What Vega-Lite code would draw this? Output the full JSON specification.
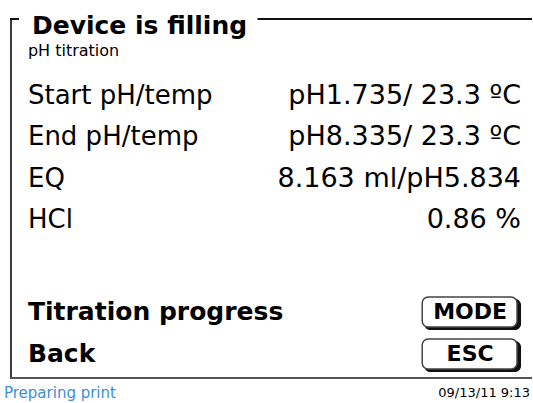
{
  "$schema": "https://vega.github.io/schema/vega-lite/v6.json",
  "width": 533,
  "height": 403,
  "autosize": {"type": "fit", "contains": "padding"},
  "padding": 0,
  "background": "#ffffff",
  "config": {"view": {"stroke": null}, "text": {"font": "DejaVu Sans", "color": "#000000"}},
  "datasets": {
    "results": [
      {"label": "Start pH/temp", "value": "pH1.735/ 23.3 ºC"},
      {"label": "End pH/temp", "value": "pH8.335/ 23.3 ºC"},
      {"label": "EQ", "value": "8.163 ml/pH5.834"},
      {"label": "HCl", "value": "0.86 %"}
    ],
    "actions": [
      {"action": "Titration progress", "key": "MODE"},
      {"action": "Back", "key": "ESC"}
    ]
  },
  "layer": [
    {
      "data": {"values": [{}]},
      "layer": [
        {"mark": {"type": "rule", "stroke": "#3a3a3a", "strokeWidth": 2},
         "encoding": {"x": {"datum": 11, "type": "quantitative", "scale": {"domain": [0, 533], "nice": false}, "axis": null},
                      "y": {"datum": 18, "type": "quantitative", "scale": {"domain": [0, 403], "reverse": true, "nice": false}, "axis": null},
                      "y2": {"datum": 378}}},
        {"mark": {"type": "rule", "stroke": "#111111", "strokeWidth": 2},
         "encoding": {"x": {"datum": 10, "type": "quantitative"}, "x2": {"datum": 19}, "y": {"datum": 19, "type": "quantitative"}}},
        {"mark": {"type": "rule", "stroke": "#111111", "strokeWidth": 2},
         "encoding": {"x": {"datum": 258, "type": "quantitative"}, "x2": {"datum": 533}, "y": {"datum": 19, "type": "quantitative"}}},
        {"mark": {"type": "rule", "stroke": "#555555", "strokeWidth": 2},
         "encoding": {"x": {"datum": 10, "type": "quantitative"}, "x2": {"datum": 533}, "y": {"datum": 378, "type": "quantitative"}}},
        {"mark": {"type": "rect", "fill": "#111111", "cornerRadius": 6},
         "encoding": {"x": {"datum": 425, "type": "quantitative"}, "x2": {"datum": 522}, "y": {"datum": 299, "type": "quantitative"}, "y2": {"datum": 330}}},
        {"mark": {"type": "rect", "fill": "#ffffff", "stroke": "#444444", "strokeWidth": 1.5, "cornerRadius": 6},
         "encoding": {"x": {"datum": 423, "type": "quantitative"}, "x2": {"datum": 518}, "y": {"datum": 297, "type": "quantitative"}, "y2": {"datum": 327}}},
        {"mark": {"type": "rect", "fill": "#111111", "cornerRadius": 6},
         "encoding": {"x": {"datum": 425, "type": "quantitative"}, "x2": {"datum": 522}, "y": {"datum": 341, "type": "quantitative"}, "y2": {"datum": 372}}},
        {"mark": {"type": "rect", "fill": "#ffffff", "stroke": "#444444", "strokeWidth": 1.5, "cornerRadius": 6},
         "encoding": {"x": {"datum": 423, "type": "quantitative"}, "x2": {"datum": 518}, "y": {"datum": 339, "type": "quantitative"}, "y2": {"datum": 369}}},
        {"mark": {"type": "text", "text": "Device is filling", "font": "DejaVu Sans", "fontWeight": "bold", "fontSize": 25, "align": "left", "baseline": "middle"},
         "encoding": {"x": {"datum": 32, "type": "quantitative"}, "y": {"datum": 26, "type": "quantitative"}}},
        {"mark": {"type": "text", "text": "pH titration", "font": "DejaVu Sans", "fontSize": 16, "align": "left", "baseline": "middle"},
         "encoding": {"x": {"datum": 28, "type": "quantitative"}, "y": {"datum": 51, "type": "quantitative"}}},
        {"mark": {"type": "text", "text": "Preparing print", "font": "DejaVu Sans", "fontSize": 15, "color": "#3b8fd9", "align": "left", "baseline": "middle"},
         "encoding": {"x": {"datum": 4, "type": "quantitative"}, "y": {"datum": 393, "type": "quantitative"}}},
        {"mark": {"type": "text", "text": "09/13/11 9:13", "font": "DejaVu Sans", "fontSize": 13, "align": "right", "baseline": "middle"},
         "encoding": {"x": {"datum": 531, "type": "quantitative"}, "y": {"datum": 393, "type": "quantitative"}}}
      ]
    },
    {
      "data": {"name": "results"},
      "encoding": {
        "y": {"field": "label", "type": "nominal", "sort": null, "scale": {"type": "point", "range": [96, 220], "padding": 0}, "axis": null}
      },
      "layer": [
        {"mark": {"type": "text", "align": "left", "baseline": "middle", "fontSize": 26},
         "encoding": {"x": {"datum": 28, "type": "quantitative", "scale": {"domain": [0, 533], "nice": false}, "axis": null}, "text": {"field": "label"}}},
        {"mark": {"type": "text", "align": "right", "baseline": "middle", "fontSize": 27},
         "encoding": {"x": {"datum": 522, "type": "quantitative"}, "text": {"field": "value"}}}
      ]
    },
    {
      "data": {"name": "actions"},
      "encoding": {
        "y": {"field": "action", "type": "nominal", "sort": null, "scale": {"type": "point", "range": [312, 354], "padding": 0}, "axis": null}
      },
      "layer": [
        {"mark": {"type": "text", "align": "left", "baseline": "middle", "fontSize": 25, "fontWeight": "bold"},
         "encoding": {"x": {"datum": 28, "type": "quantitative", "scale": {"domain": [0, 533], "nice": false}, "axis": null}, "text": {"field": "action"}}},
        {"mark": {"type": "text", "align": "center", "baseline": "middle", "fontSize": 22, "fontWeight": "bold"},
         "encoding": {"x": {"datum": 471, "type": "quantitative"}, "text": {"field": "key"}}}
      ]
    }
  ],
  "resolve": {"scale": {"x": "independent", "y": "independent"}}
}
